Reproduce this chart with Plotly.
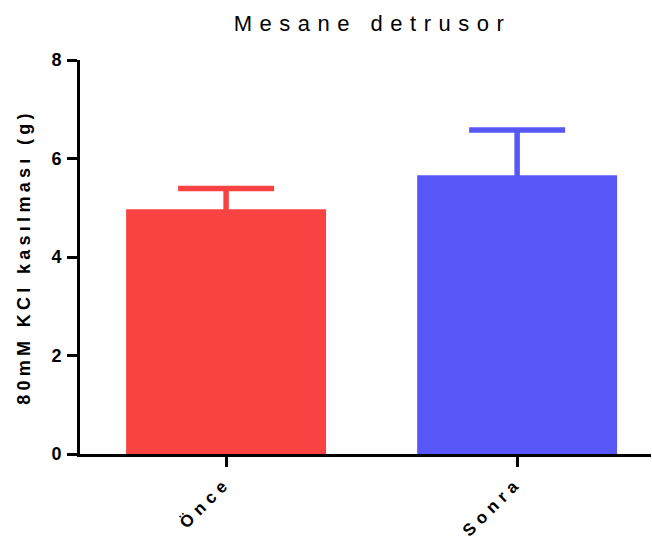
import plotly.graph_objects as go

# Contraction to 80 mM KCl, before and after
categories = ["Önce", "Sonra"]
means = [4.97, 5.66]
sem_upper = [0.42, 0.92]
bar_colors = ["#F94343", "#5858F9"]

title_text = "Mesane detrusor"
y_title = "80mM KCl kasılması (g)"
y_ticks = [0, 2, 4, 6, 8]

FONT = "Arial, Liberation Sans, sans-serif"
BAR_W = 0.687


def spaced(text, px, bold=False):
    s = f'<span style="letter-spacing:{px}px">{text}</span>'
    return f"<b>{s}</b>" if bold else s


fig = go.Figure()

# Upper SEM whiskers; the lower shoe sits inside the bar and is hidden by the bar drawn next
for i in range(len(categories)):
    fig.add_trace(go.Bar(
        x=[i],
        y=[means[i]],
        width=BAR_W,
        marker=dict(color=bar_colors[i], opacity=0, line=dict(width=0)),
        error_y=dict(
            type="data",
            symmetric=False,
            array=[sem_upper[i]],
            arrayminus=[0.3],
            color=bar_colors[i],
            thickness=5.5,
            width=48,
        ),
        showlegend=False,
        hoverinfo="skip",
    ))

# Mean bars
for i, cat in enumerate(categories):
    fig.add_trace(go.Bar(
        x=[i],
        y=[means[i]],
        width=BAR_W,
        name=cat,
        marker=dict(color=bar_colors[i], line=dict(width=0)),
        showlegend=False,
        hoverinfo="skip",
    ))

fig.update_layout(
    width=652,
    height=541,
    margin=dict(l=80, r=1, t=60, b=87, autoexpand=False),
    paper_bgcolor="white",
    plot_bgcolor="white",
    barmode="overlay",
    font=dict(family=FONT, color="black"),
    title=dict(
        text=spaced(title_text, 7.5),
        font=dict(size=22, family=FONT, color="black"),
        x=0.5 + 7 / 571,
        xref="paper",
        xanchor="center",
        y=1 - 23 / 541,
        yref="container",
        yanchor="middle",
    ),
)

fig.update_xaxes(
    range=[-0.502, 1.46],
    tickmode="array",
    tickvals=list(range(len(categories))),
    ticktext=[spaced(c, 5.5, bold=True) for c in categories],
    tickangle=-45,
    tickfont=dict(size=17, family=FONT),
    ticklabelstandoff=-1,
    automargin=False,
    showline=True,
    linecolor="black",
    linewidth=3,
    ticks="outside",
    ticklen=10,
    tickwidth=3,
    tickcolor="black",
    showgrid=False,
    zeroline=False,
)

fig.update_yaxes(
    range=[0, 8],
    tickmode="array",
    tickvals=y_ticks,
    ticktext=[f"<b>{t}</b>" for t in y_ticks],
    tickfont=dict(size=18, family=FONT),
    automargin=False,
    showline=True,
    linecolor="black",
    linewidth=3,
    ticks="outside",
    ticklen=10,
    tickwidth=3,
    tickcolor="black",
    ticklabelstandoff=2,
    showgrid=False,
    zeroline=False,
    title=dict(
        text=spaced(y_title, 4.3, bold=True),
        font=dict(size=18, family=FONT),
        standoff=17,
    ),
)

fig.write_html("out.html")
